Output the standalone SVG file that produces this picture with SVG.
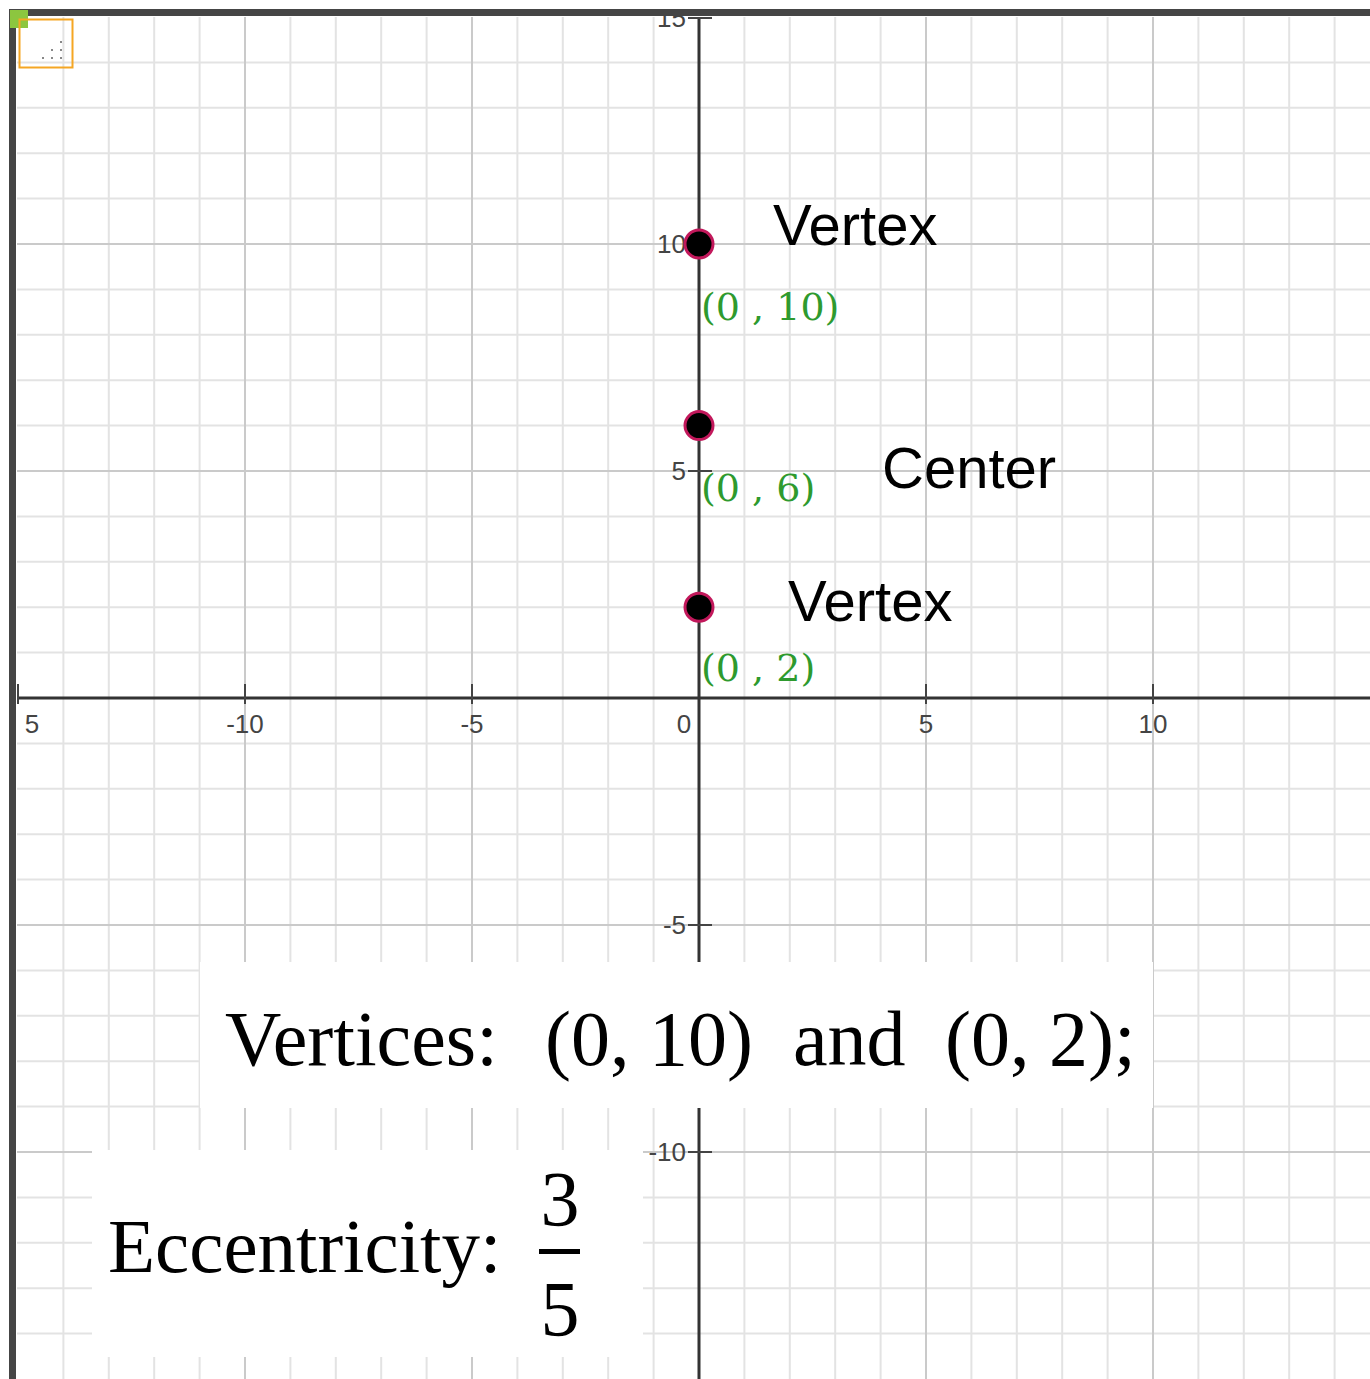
<svg xmlns="http://www.w3.org/2000/svg" width="1370" height="1379" viewBox="0 0 1370 1379">
<style>
.minor{stroke:#e3e3e3;stroke-width:2;fill:none}
.major{stroke:#cacaca;stroke-width:2;fill:none}
.axis{stroke:#333;stroke-width:3;fill:none}
.tick{stroke:#444;stroke-width:2;fill:none}
.albl{font-family:"Liberation Sans",Arial,sans-serif;font-size:26px;fill:#444}
.albl-x{text-anchor:middle}
.albl-y{text-anchor:end}
.pt{fill:#000;stroke:#c2185b;stroke-width:3}
.name{font-family:"Liberation Sans",Arial,sans-serif;font-size:58px;fill:#000}
.coord{font-family:"DejaVu Serif","Liberation Serif",serif;font-size:38px;fill:#2e9a2e;font-variant-numeric:oldstyle-nums}
.box{fill:#fff}
.serif{font-family:"Liberation Serif","Times New Roman",serif;fill:#000}
</style>
<rect x="0" y="0" width="1370" height="1379" fill="#fff"/>
<g id="grid">
<path class="minor" d="M63.4 17V1379M108.8 17V1379M154.2 17V1379M199.6 17V1379M290.4 17V1379M335.8 17V1379M381.2 17V1379M426.6 17V1379M517.4 17V1379M562.8 17V1379M608.2 17V1379M653.6 17V1379M744.4 17V1379M789.8 17V1379M835.2 17V1379M880.6 17V1379M971.4 17V1379M1016.8 17V1379M1062.2 17V1379M1107.6 17V1379M1198.4 17V1379M1243.8 17V1379M1289.2 17V1379M1334.6 17V1379"/>
<path class="minor" d="M17 62.4H1370M17 107.8H1370M17 153.2H1370M17 198.6H1370M17 289.4H1370M17 334.8H1370M17 380.2H1370M17 425.6H1370M17 516.4H1370M17 561.8H1370M17 607.2H1370M17 652.6H1370M17 743.4H1370M17 788.8H1370M17 834.2H1370M17 879.6H1370M17 970.4H1370M17 1015.8H1370M17 1061.2H1370M17 1106.6H1370M17 1197.4H1370M17 1242.8H1370M17 1288.2H1370M17 1333.6H1370"/>
<path class="major" d="M245 17V1379M472 17V1379M926 17V1379M1153 17V1379M17 244H1370M17 471H1370M17 925H1370M17 1152H1370"/>
</g>
<g id="axes">
<path class="axis" d="M18 698H1370M699 17V1379"/>
<path class="tick" d="M18 684V704M245 684V704M472 684V704M926 684V704M1153 684V704M688 18H712M688 244H712M688 471H712M688 925H712M688 1152H712"/>
<text class="albl albl-x" x="32" y="733">5</text>
<text class="albl albl-x" x="245" y="733">-10</text>
<text class="albl albl-x" x="472" y="733">-5</text>
<text class="albl albl-x" x="684" y="733">0</text>
<text class="albl albl-x" x="926" y="733">5</text>
<text class="albl albl-x" x="1153" y="733">10</text>
<text class="albl albl-y" x="686" y="27">15</text>
<text class="albl albl-y" x="686" y="253">10</text>
<text class="albl albl-y" x="686" y="480">5</text>
<text class="albl albl-y" x="686" y="934">-5</text>
<text class="albl albl-y" x="686" y="1161">-10</text>
</g>
<g id="frame">
<path d="M9 12.5H1370M12.5 9V1379" stroke="#454545" stroke-width="7" fill="none"/>
<rect x="10" y="10" width="18" height="18" fill="#8cc63f"/>
<rect x="19.5" y="19.5" width="53" height="48" fill="none" stroke="#f5a623" stroke-width="2"/>
<g fill="#888">
<rect x="60" y="41" width="2" height="2"/>
<rect x="51" y="49" width="2" height="2"/>
<rect x="60" y="49" width="2" height="2"/>
<rect x="42" y="57" width="2" height="2"/>
<rect x="51" y="57" width="2" height="2"/>
<rect x="60" y="57" width="2" height="2"/>
</g>
</g>
<g id="vertex-top">
<circle class="pt" cx="699" cy="244" r="14"/>
<text class="name" x="773" y="245">Vertex</text>
<text class="coord" x="701" y="320">(0 , 10)</text>
</g>
<g id="center">
<circle class="pt" cx="699" cy="425.6" r="14"/>
<text class="name" x="882" y="488">Center</text>
<text class="coord" x="701" y="501">(0 , 6)</text>
</g>
<g id="vertex-bottom">
<circle class="pt" cx="699" cy="607.2" r="14"/>
<text class="name" x="788" y="621">Vertex</text>
<text class="coord" x="701" y="681">(0 , 2)</text>
</g>
<g id="vertices-box">
<rect class="box" x="200" y="962" width="953" height="146"/>
<text class="serif" font-size="78" y="1065"><tspan x="225">Vertices:</tspan><tspan x="545">(0, 10)</tspan><tspan x="793">and</tspan><tspan x="945">(0, 2);</tspan></text>
</g>
<g id="eccentricity-box">
<rect class="box" x="92" y="1150" width="551" height="207"/>
<text class="serif" font-size="77" x="108" y="1272">Eccentricity:</text>
<text class="serif" font-size="78" x="560" y="1225" text-anchor="middle">3</text>
<rect x="539" y="1249" width="41" height="5" fill="#000"/>
<text class="serif" font-size="78" x="560" y="1335" text-anchor="middle">5</text>
</g>
</svg>
